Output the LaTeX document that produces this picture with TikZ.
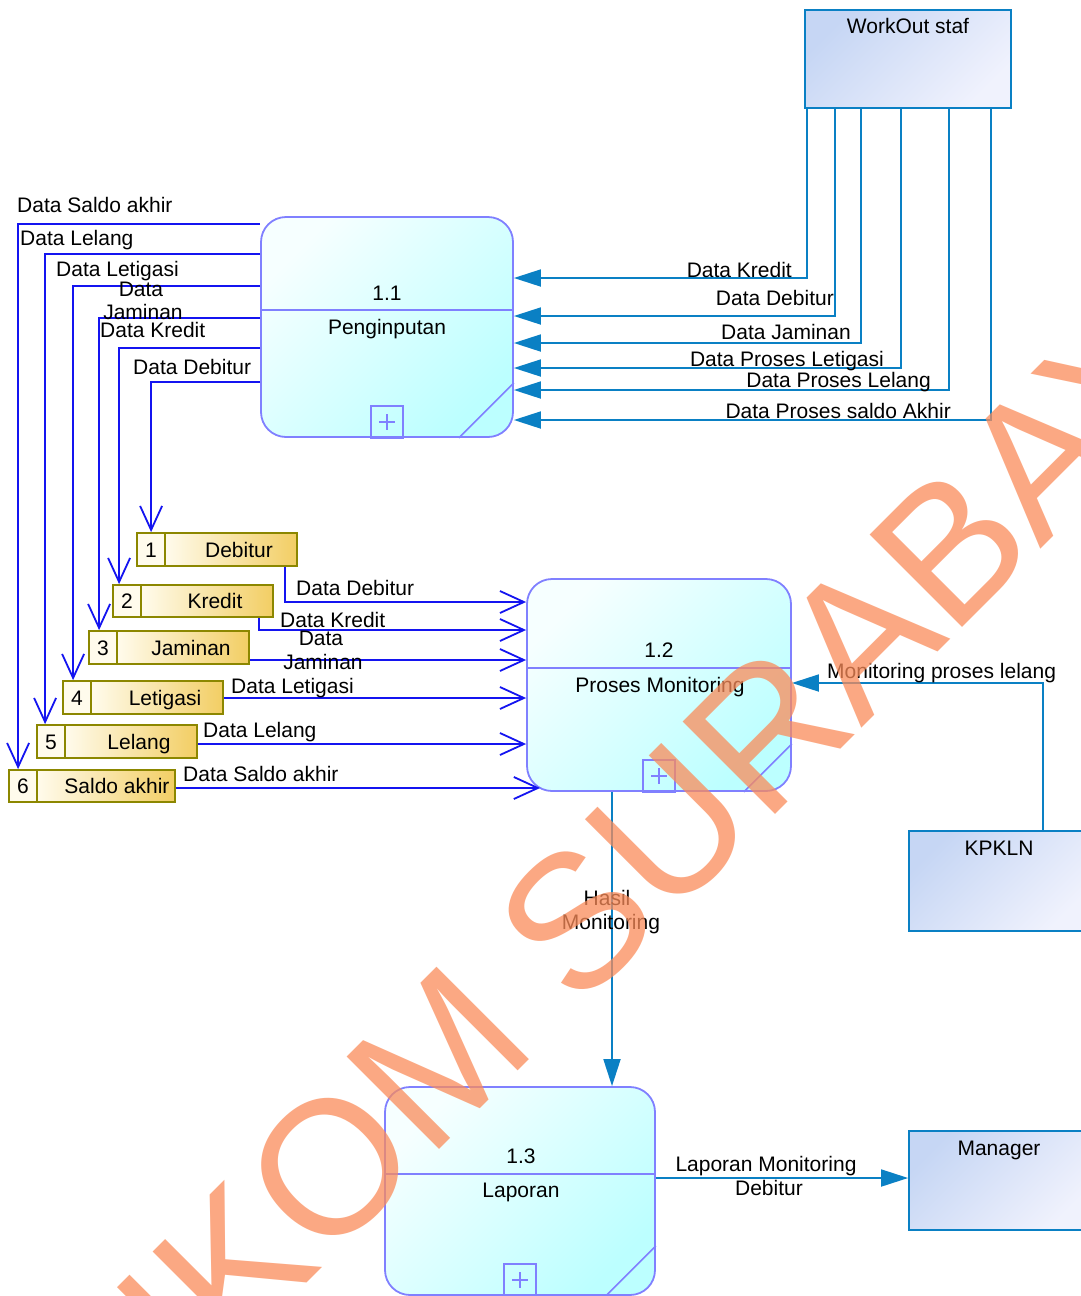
\documentclass[tikz,border=0pt]{standalone}
\usepackage{fontspec}
\setmainfont{Liberation Sans}
\usetikzlibrary{arrows.meta}

\definecolor{procline}{RGB}{128,128,255}
\definecolor{proctop}{RGB}{246,255,255}
\definecolor{procbot}{RGB}{188,255,255}
\definecolor{entline}{RGB}{10,128,196}
\definecolor{enttop}{RGB}{198,214,244}
\definecolor{entbot}{RGB}{240,242,253}
\definecolor{storeline}{RGB}{140,135,0}
\definecolor{storelight}{RGB}{255,251,236}
\definecolor{storegold}{RGB}{242,206,100}
\definecolor{dataflow}{RGB}{20,20,240}
\definecolor{extflow}{RGB}{10,128,196}
\definecolor{wmark}{RGB}{250,140,90}

% divider, sub-process box and corner cut of a process bubble
\newcommand\procextras[3]{%
  \draw[procline, line width=1.8pt] (#1.west |- 0,#2) -- (#1.east |- 0,#2);
  \draw[procline, line width=1.6pt] ([xshift=-16pt]#1.south) rectangle ([xshift=16pt,yshift=32pt]#1.south);
  \draw[procline, line width=1.4pt] ([xshift=-8pt,yshift=16pt]#1.south) -- ([xshift=8pt,yshift=16pt]#1.south)
        ([yshift=8pt]#1.south) -- ([yshift=24pt]#1.south);
  \draw[procline, line width=1.6pt] ([xshift=-#3]#1.south east) -- ([yshift=#3]#1.south east);
}

\begin{document}
\begin{tikzpicture}[x=1pt, y=-1pt,
  font=\fontsize{21}{24}\selectfont,
  process/.style={draw=procline, line width=1.8pt, rounded corners=25pt,
    top color=proctop, bottom color=procbot, shading angle=45, inner sep=0pt},
  entity/.style={draw=entline, line width=1.8pt,
    top color=enttop, bottom color=entbot, shading angle=45, inner sep=0pt},
  store/.style={draw=storeline, line width=1.8pt, inner sep=0pt,
    minimum width=160pt, minimum height=33pt,
    path picture={
      \fill[storelight] (path picture bounding box.north west) rectangle ([xshift=28pt]path picture bounding box.south west);
      \shade[left color=storelight, right color=storegold] ([xshift=28pt]path picture bounding box.north west) rectangle (path picture bounding box.south east);
      \draw[storeline, line width=1.8pt] ([xshift=28pt]path picture bounding box.north west) -- ([xshift=28pt]path picture bounding box.south west);
    }},
  txt/.style={inner sep=0pt, anchor=base},
  lblw/.style={inner sep=0pt, anchor=base west},
  lble/.style={inner sep=0pt, anchor=base east},
  dflow/.style={draw=dataflow, line width=1.8pt, -{Straight Barb[length=24pt,width=22pt]}},
  eflow/.style={draw=extflow, line width=1.8pt, -{Triangle[length=27pt,width=17pt]}}
]
\useasboundingbox (0,0) rectangle (1081,1296);
\clip (0,0) rectangle (1081,1296);
\fill[white] (0,0) rectangle (1081,1296);

% ---------- processes ----------
\node[process, minimum width=252pt, minimum height=220pt] (p11) at (387,327) {};
\procextras{p11}{310}{55pt}
\node[process, minimum width=264pt, minimum height=212pt] (p12) at (659,685) {};
\procextras{p12}{668}{48pt}
\node[process, minimum width=270pt, minimum height=208pt] (p13) at (520,1191) {};
\procextras{p13}{1174}{50pt}

\node[txt] (p11a) at (387,300) {1.1};
\node[txt] (p11b) at (387,334) {Penginputan};
\node[txt] (p12a) at (659,657) {1.2};
\node[txt] (p12b) at (660,692) {Proses Monitoring};
\node[txt] (p13a) at (521,1163) {1.3};
\node[txt] (p13b) at (521,1197) {Laporan};

% ---------- external entities ----------
\node[entity, minimum width=206pt, minimum height=98pt] (ws) at (908,59) {};
\node[entity, minimum width=180pt, minimum height=100pt] (kp) at (999,881) {};
\node[entity, minimum width=180pt, minimum height=99pt] (mg) at (999,1180.5) {};
\node[txt] (wst) at (908,33) {WorkOut staf};
\node[txt] (kpt) at (999,855) {KPKLN};
\node[txt] (mgt) at (999,1155) {Manager};

% ---------- data stores ----------
\node[store] (s1) at (217,549.5) {};
\node[store, minimum height=32pt] (s2) at (193,601) {};
\node[store] (s3) at (169,647.5) {};
\node[store] (s4) at (143,697.5) {};
\node[store] (s5) at (117,741.5) {};
\node[store, minimum width=166pt, minimum height=32pt] (s6) at (92,786) {};

\node[txt] (s1n) at (151,557) {1};
\node[txt] (s1t) at (239,557) {Debitur};
\node[txt] (s2n) at (127,608) {2};
\node[txt] (s2t) at (215,608) {Kredit};
\node[txt] (s3n) at (103,655) {3};
\node[txt] (s3t) at (191,655) {Jaminan};
\node[txt] (s4n) at (77,705) {4};
\node[txt] (s4t) at (165,705) {Letigasi};
\node[txt] (s5n) at (51,749) {5};
\node[txt] (s5t) at (139,749) {Lelang};
\node[txt] (s6n) at (23,793) {6};
\node[txt] (s6t) at (117,793) {Saldo akhir};

% ---------- flows from 1.1 into the stores ----------
\draw[dflow] (p11.west |- 0,224) -| ([xshift=10pt]s6.north west);
\draw[dflow] (p11.west |- 0,254) -| ([xshift=9pt]s5.north west);
\draw[dflow] (p11.west |- 0,286) -| ([xshift=11pt]s4.north west);
\draw[dflow] (p11.west |- 0,318) -| ([xshift=11pt]s3.north west);
\draw[dflow] (p11.west |- 0,348) -| ([xshift=7pt]s2.north west);
\draw[dflow] (p11.west |- 0,382) -| ([xshift=15pt]s1.north west);

\node[lblw] (la1) at (17,212) {Data Saldo akhir};
\node[lblw] (la2) at (20,245) {Data Lelang};
\node[lblw] (la3) at (56,276) {Data Letigasi};
\node[txt] (la4) at (141,296) {Data};
\node[txt] (la4b) at (143,319) {Jaminan};
\node[lblw] (la5) at (100,337) {Data Kredit};
\node[lblw] (la6) at (133,374) {Data Debitur};

% ---------- flows from the stores into 1.2 ----------
\coordinate (p12hit) at (540,788);
\draw[dflow] ([xshift=149pt]s1.south west) |- (p12.west |- 0,602);
\draw[dflow] ([xshift=147pt]s2.south west) |- (p12.west |- 0,630);
\draw[dflow] (s3.east |- 0,660) -- (p12.west |- 0,660);
\draw[dflow] (s4.east |- 0,698) -- (p12.west |- 0,698);
\draw[dflow] (s5.east |- 0,744) -- (p12.west |- 0,744);
\draw[dflow] (s6.east |- 0,788) -- (p12hit);

\node[lblw] (lb1) at (296,595) {Data Debitur};
\node[lblw] (lb2) at (280,627) {Data Kredit};
\node[txt] (lb3) at (321,645) {Data};
\node[txt] (lb3b) at (323,669) {Jaminan};
\node[lblw] (lb4) at (231,693) {Data Letigasi};
\node[lblw] (lb5) at (203,737) {Data Lelang};
\node[lblw] (lb6) at (183,781) {Data Saldo akhir};

% ---------- flows from WorkOut staf into 1.1 ----------
\draw[eflow] ([xshift=3pt]ws.south west) |- (p11.east |- 0,278);
\draw[eflow] ([xshift=31pt]ws.south west) |- (p11.east |- 0,316);
\draw[eflow] ([xshift=57pt]ws.south west) |- (p11.east |- 0,343);
\draw[eflow] ([xshift=97pt]ws.south west) |- (p11.east |- 0,368);
\draw[eflow] ([xshift=145pt]ws.south west) |- (p11.east |- 0,390);
\draw[eflow] ([xshift=187pt]ws.south west) |- (p11.east |- 0,420);

\node[lble] (lc1) at (792,277) {Data Kredit};
\node[lble] (lc2) at (834,305) {Data Debitur};
\node[lble] (lc3) at (851,339) {Data Jaminan};
\node[lble] (lc4) at (884,366) {Data Proses Letigasi};
\node[lble] (lc5) at (931,387) {Data Proses Lelang};
\node[lble] (lc6) at (951,418) {Data Proses saldo Akhir};

% ---------- remaining flows ----------
\draw[eflow] ([xshift=135pt]kp.north west) |- (p12.east |- 0,683);
\node[lblw] (ld1) at (827,678) {Monitoring proses lelang};

\draw[eflow] (612,0 |- p12.south) -- (612,0 |- p13.north);
\node[txt] (ld2) at (607,905) {Hasil};
\node[txt] (ld2b) at (611,929) {Monitoring};

\draw[eflow] (p13.east |- 0,1178) -- (mg.west |- 0,1178);
\node[txt] (ld3) at (766,1171) {Laporan Monitoring};
\node[txt] (ld3b) at (769,1195) {Debitur};

% ---------- watermark ----------
\node[rotate=45, anchor=base west, inner sep=0pt, text=wmark, opacity=0.75,
      font=\fontsize{190}{190}\selectfont] (wm) at (25.5,1564.3) {STIKOM SURABAYA};
\end{tikzpicture}
\end{document}
